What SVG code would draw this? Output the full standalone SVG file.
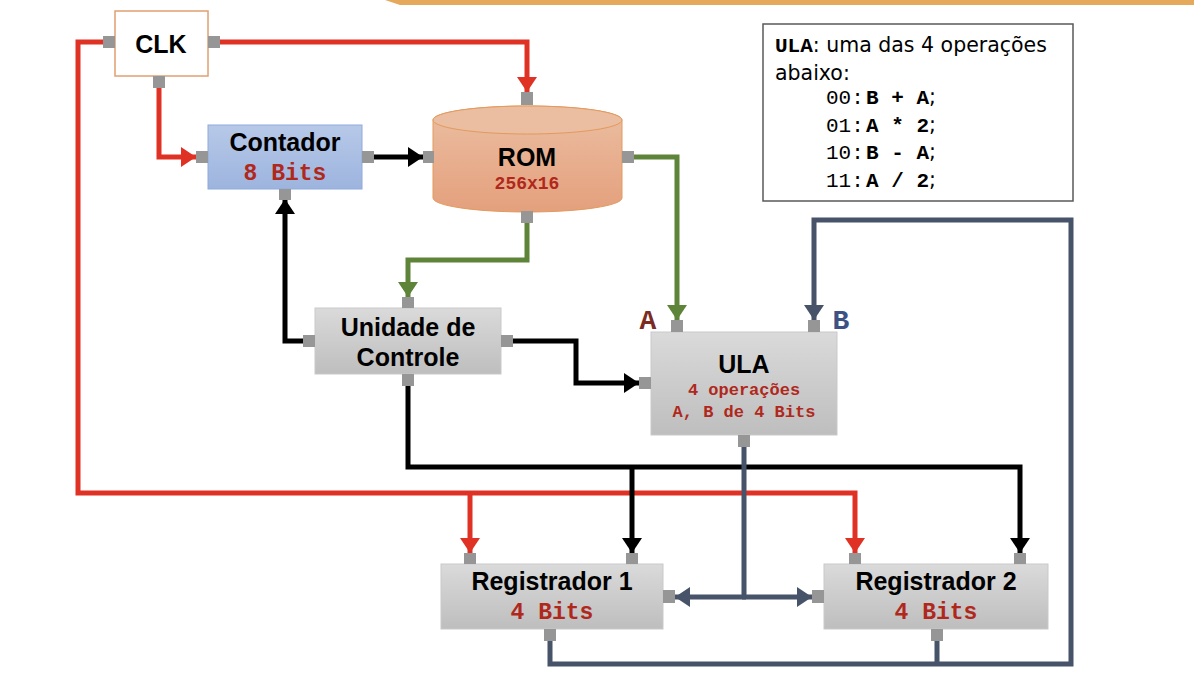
<svg xmlns="http://www.w3.org/2000/svg" width="1194" height="679" viewBox="0 0 1194 679">
<style>
.t{font-family:"Liberation Sans",Arial,sans-serif;font-weight:bold;font-size:25px;fill:#000;text-anchor:middle}
.s{font-family:"Liberation Mono","Courier New",monospace;font-weight:bold;fill:#B0281C;text-anchor:middle}
.port{fill:#969696}
.gbox{fill:url(#gray);stroke:#C9C9C9;stroke-width:1}
.ln{fill:none;stroke-width:5;stroke-linejoin:miter}
.red{stroke:#E03224}
.blk{stroke:#000}
.grn{stroke:#5E843A}
.blu{stroke:#465368}
.lg{font-family:"DejaVu Sans",Tahoma,sans-serif;font-size:20.5px;fill:#000}
.mono{font-family:"Liberation Mono","Courier New",monospace;font-size:21px}
.monob{font-family:"Liberation Mono","Courier New",monospace;font-size:21px;font-weight:bold}
</style>
<defs>
<linearGradient id="gray" x1="0" y1="0" x2="0" y2="1"><stop offset="0" stop-color="#DADADA"/><stop offset="1" stop-color="#BEBEBE"/></linearGradient>
<linearGradient id="blue" x1="0" y1="0" x2="0" y2="1"><stop offset="0" stop-color="#B7C9E8"/><stop offset="1" stop-color="#9DB4DE"/></linearGradient>
<linearGradient id="rom" x1="0" y1="0" x2="0" y2="1"><stop offset="0" stop-color="#EBBEA2"/><stop offset="1" stop-color="#E4A07D"/></linearGradient>
<marker id="ar" viewBox="0 0 15 20" refX="15" refY="10" markerWidth="15" markerHeight="20" markerUnits="userSpaceOnUse" orient="auto"><path d="M0,0 L15,10 L0,20 Z" fill="#E03224"/></marker>
<marker id="ak" viewBox="0 0 15 20" refX="15" refY="10" markerWidth="15" markerHeight="20" markerUnits="userSpaceOnUse" orient="auto"><path d="M0,0 L15,10 L0,20 Z" fill="#000"/></marker>
<marker id="ag" viewBox="0 0 15 20" refX="15" refY="10" markerWidth="15" markerHeight="20" markerUnits="userSpaceOnUse" orient="auto"><path d="M0,0 L15,10 L0,20 Z" fill="#5E843A"/></marker>
<marker id="ab" viewBox="0 0 15 20" refX="15" refY="10" markerWidth="15" markerHeight="20" markerUnits="userSpaceOnUse" orient="auto"><path d="M0,0 L15,10 L0,20 Z" fill="#465368"/></marker>
</defs>
<rect width="1194" height="679" fill="#FFFFFF"/>
<polygon points="385,0 1194,0 1194,5 400,5" fill="#E6A95C"/>

<g id="connectors">
<path class="ln red" d="M103,42 H78 V493 H855 V553" marker-end="url(#ar)"/>
<path class="ln red" d="M470,493 V553" marker-end="url(#ar)"/>
<path class="ln red" d="M220,42 H527 V92" marker-end="url(#ar)"/>
<path class="ln red" d="M159,88 V157 H196" marker-end="url(#ar)"/>
<path class="ln blk" d="M374,157 H423" marker-end="url(#ak)"/>
<path class="ln blk" d="M303,341 H285 V199" marker-end="url(#ak)"/>
<path class="ln blk" d="M513,341 H576 V383 H639" marker-end="url(#ak)"/>
<path class="ln blk" d="M408,386 V467 H1020 V553" marker-end="url(#ak)"/>
<path class="ln blk" d="M632,467 V553" marker-end="url(#ak)"/>
<path class="ln grn" d="M634,157 H677 V320" marker-end="url(#ag)"/>
<path class="ln grn" d="M527,222 V260 H408 V297" marker-end="url(#ag)"/>
<path class="ln blu" d="M744,447 V597"/>
<path class="ln blu" d="M746,597 H675" marker-end="url(#ab)"/>
<path class="ln blu" d="M742,597 H812" marker-end="url(#ab)"/>
<path class="ln blu" d="M550,641 V664 H1071 V220 H814 V320" marker-end="url(#ab)"/>
<path class="ln blu" d="M937,641 V664"/>
</g>

<g id="clk">
<rect x="115" y="11" width="93" height="65" fill="#FFFFFF" stroke="#E0A070" stroke-width="1.5"/>
<rect class="port" x="103" y="36" width="12" height="12"/>
<rect class="port" x="208" y="36" width="12" height="12"/>
<rect class="port" x="153" y="76" width="12" height="12"/>
<text class="t" x="161" y="53">CLK</text>
</g>

<g id="contador">
<rect x="208" y="125" width="154" height="64" fill="url(#blue)" stroke="#8FAADC" stroke-width="1"/>
<rect class="port" x="196" y="151" width="12" height="12"/>
<rect class="port" x="362" y="151" width="12" height="12"/>
<rect class="port" x="279" y="189" width="12" height="11"/>
<text class="t" x="285" y="151">Contador</text>
<text class="s" x="285" y="180" font-size="23">8 Bits</text>
</g>

<g id="rom">
<path d="M433,120 A94.5,14 0 0 1 622,120 V198 A94.5,14 0 0 1 433,198 Z" fill="url(#rom)" stroke="#E39A5C" stroke-width="1"/>
<ellipse cx="527.5" cy="120" rx="94.5" ry="14" fill="#EBBEA2" stroke="#E39A5C" stroke-width="1"/>
<rect class="port" x="521" y="92" width="12" height="13"/>
<rect class="port" x="423" y="151" width="11" height="12"/>
<rect class="port" x="622" y="151" width="12" height="12"/>
<rect class="port" x="521" y="211" width="12" height="12"/>
<text class="t" x="527" y="166" font-size="26">ROM</text>
<text class="s" x="527" y="189" font-size="18">256x16</text>
</g>

<g id="uc">
<rect class="gbox" x="315" y="308" width="186" height="66"/>
<rect class="port" x="402" y="297" width="12" height="11"/>
<rect class="port" x="303" y="335" width="12" height="12"/>
<rect class="port" x="501" y="335" width="12" height="12"/>
<rect class="port" x="402" y="374" width="12" height="12"/>
<text class="t" x="408" y="336">Unidade de</text>
<text class="t" x="408" y="366">Controle</text>
</g>

<g id="ula">
<rect class="gbox" x="651" y="332" width="186" height="103"/>
<rect class="port" x="671" y="320" width="12" height="12"/>
<rect class="port" x="808" y="320" width="12" height="12"/>
<rect class="port" x="639" y="377" width="12" height="12"/>
<rect class="port" x="738" y="435" width="12" height="12"/>
<text class="t" x="744" y="373" font-size="27">ULA</text>
<text class="s" x="744" y="395" font-size="17">4 operações</text>
<text class="s" x="744" y="417" font-size="17">A, B de 4 Bits</text>
<text x="648" y="329" font-family="Liberation Mono, Courier New, monospace" font-weight="bold" font-size="28" fill="#7B2C22" text-anchor="middle">A</text>
<text x="841" y="329" font-family="Liberation Mono, Courier New, monospace" font-weight="bold" font-size="28" fill="#3D5283" text-anchor="middle">B</text>
</g>

<g id="reg1">
<rect class="gbox" x="441" y="564" width="222" height="65"/>
<rect class="port" x="464" y="553" width="12" height="11"/>
<rect class="port" x="626" y="553" width="12" height="11"/>
<rect class="port" x="663" y="590" width="12" height="13"/>
<rect class="port" x="544" y="629" width="12" height="12"/>
<text class="t" x="552" y="590">Registrador 1</text>
<text class="s" x="552" y="619" font-size="23">4 Bits</text>
</g>

<g id="reg2">
<rect class="gbox" x="824" y="564" width="224" height="65"/>
<rect class="port" x="849" y="553" width="12" height="11"/>
<rect class="port" x="1014" y="553" width="12" height="11"/>
<rect class="port" x="812" y="590" width="12" height="13"/>
<rect class="port" x="931" y="629" width="12" height="12"/>
<text class="t" x="936" y="590">Registrador 2</text>
<text class="s" x="936" y="619" font-size="23">4 Bits</text>
</g>

<g id="legend">
<rect x="763" y="24" width="310" height="177" fill="#FFFFFF" stroke="#595959" stroke-width="1.5"/>
<text class="lg" x="775" y="52"><tspan class="monob" font-size="20">ULA</tspan>: uma das 4 operações</text>
<text class="lg" x="775" y="80">abaixo:</text>
<text class="lg" y="104"><tspan class="mono" x="826">00:</tspan><tspan class="monob" x="866">B + A</tspan><tspan>;</tspan></text>
<text class="lg" y="132"><tspan class="mono" x="826">01:</tspan><tspan class="monob" x="866">A * 2</tspan><tspan>;</tspan></text>
<text class="lg" y="159"><tspan class="mono" x="826">10:</tspan><tspan class="monob" x="866">B - A</tspan><tspan>;</tspan></text>
<text class="lg" y="187"><tspan class="mono" x="826">11:</tspan><tspan class="monob" x="866">A / 2</tspan><tspan>;</tspan></text>
</g>
</svg>
